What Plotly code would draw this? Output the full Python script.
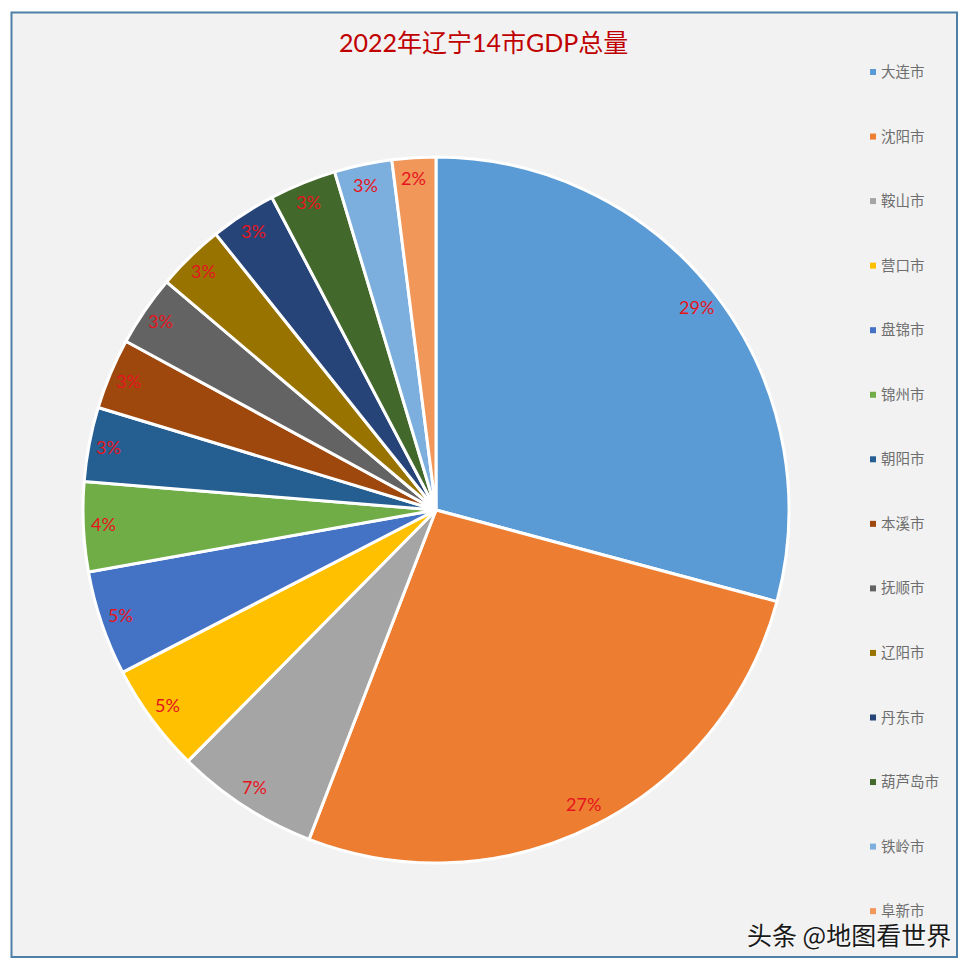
import math
import plotly.graph_objects as go

W = 974
H = 969

title_text = "2022年辽宁14市GDP总量"
watermark = "头条 @地图看世界"

cities = ["大连市", "沈阳市", "鞍山市", "营口市", "盘锦市", "锦州市", "朝阳市",
          "本溪市", "抚顺市", "辽阳市", "丹东市", "葫芦岛市", "铁岭市", "阜新市"]
shares = [29.2, 26.7, 6.55, 5.0, 4.8, 4.1, 3.4, 3.25, 3.25, 3.1, 3.03, 3.06, 2.64, 2.0]
colors = ["#5B9BD5", "#ED7D31", "#A5A5A5", "#FFC000", "#4472C4", "#70AD47", "#255E91",
          "#9E480E", "#636363", "#997300", "#264478", "#43682B", "#7CAFDD", "#F1975A"]

# pie geometry in pixels
cx, cy, radius = 436, 510, 353
label_radius = 331


def px(x):
    return x / W


def py(y):
    return 1 - y / H


fig = go.Figure()

fig.add_trace(go.Pie(
    labels=cities,
    values=shares,
    sort=False,
    direction="clockwise",
    rotation=0,
    textinfo="none",
    hoverinfo="label+percent",
    showlegend=False,
    marker=dict(colors=colors, line=dict(color="white", width=3)),
    domain=dict(x=[px(cx - radius), px(cx + radius)], y=[py(cy + radius), py(cy - radius)]),
))

annotations = []
shapes = [dict(type="rect", xref="paper", yref="paper", layer="below",
               x0=px(11.5), x1=px(957), y0=py(957), y1=py(12.5),
               fillcolor="#F2F2F2", line=dict(color="#4F81A8", width=2))]

# percent labels sit near the outer edge of each slice
total = sum(shares)
running = 0
for value in shares:
    mid = (running + value / 2) / total * 2 * math.pi
    running += value
    annotations.append(dict(
        x=px(cx + label_radius * math.sin(mid) - 2), y=py(cy - label_radius * math.cos(mid) - 1.5),
        xref="paper", yref="paper", xanchor="center", yanchor="middle", showarrow=False,
        text=f"{value / total * 100:.0f}%",
        font=dict(family="Lato", size=18, color="#E5141E"),
    ))

# legend is spread over the full height, so it is laid out by hand
legend_top = 72
legend_step = 64.55
for i, (city, color) in enumerate(zip(cities, colors)):
    y = legend_top + i * legend_step
    shapes.append(dict(type="rect", xref="paper", yref="paper",
                       x0=px(870), x1=px(876), y0=py(y + 3), y1=py(y - 3),
                       fillcolor=color, line=dict(width=0)))
    annotations.append(dict(
        x=px(879), y=py(y - 1.5), xref="paper", yref="paper", xanchor="left", yanchor="middle",
        showarrow=False,
        text=city, font=dict(family="Noto Sans CJK SC", size=14.5, color="#6E6E6E"),
    ))

annotations.append(dict(
    x=px(483), y=py(42), xref="paper", yref="paper", xanchor="center", yanchor="middle",
    showarrow=False,
    text=title_text, font=dict(family="Lato, Noto Sans CJK SC", size=25, color="#C00000"),
))
annotations.append(dict(
    x=px(953), y=py(934), xref="paper", yref="paper", xanchor="right", yanchor="middle",
    showarrow=False,
    text=watermark,
    font=dict(family="Noto Sans CJK SC", size=25, color="#1A1A1A", shadow="1px 1px 1px white"),
))

fig.update_layout(
    width=W,
    height=H,
    margin=dict(l=0, r=0, t=0, b=0),
    paper_bgcolor="white",
    shapes=shapes,
    annotations=annotations,
)

# the browser's default body margin would shift everything by 8px
fig.write_html("out.html", config=dict(displayModeBar=False),
               post_script="document.body.style.margin = '0';")
